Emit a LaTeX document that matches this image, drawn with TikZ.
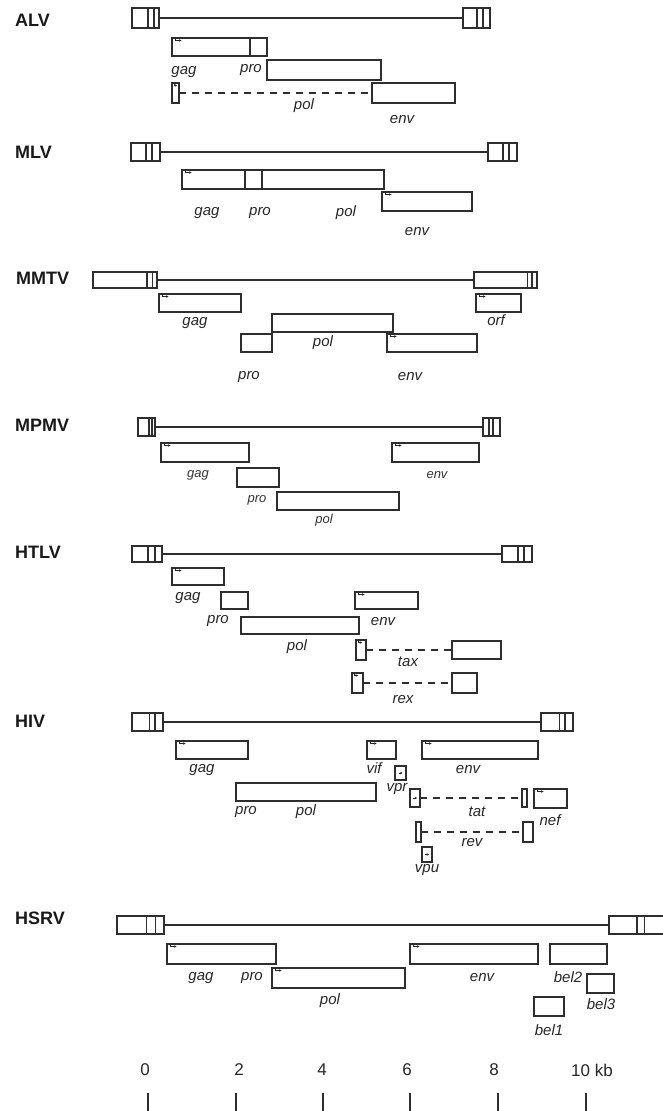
\documentclass[tikz,border=0pt]{standalone}
\usepackage{fontspec}
\setmainfont{Liberation Sans}
\usetikzlibrary{fit,arrows.meta}
\tikzset{
  gbox/.style={draw=black!82, line width=1.3pt, inner sep=0pt, outer sep=0pt, rectangle},
  genome/.style={draw=black!82, line width=1.5pt},
  divline/.style={draw=black!82, line width=1.1pt},
  splice/.style={draw=black!82, line width=1.3pt, dash pattern=on 7pt off 6pt},
  lab/.style={inner sep=0pt, font=\fontsize{15}{17}\selectfont\itshape, text=black!85},
  labs/.style={inner sep=0pt, font=\fontsize{13}{15}\selectfont\itshape, text=black!80},
  title/.style={inner sep=0pt, anchor=west, font=\fontsize{18}{20}\selectfont\bfseries, text=black!90},
  scalelab/.style={inner sep=0pt, font=\fontsize{17}{19}\selectfont, text=black!85},
  startmark/.style={draw=black!85, line width=0.9pt, -{Stealth[length=2.4pt,width=2.6pt]}},
  tickline/.style={draw=black!82, line width=1.4pt}
}
\newcommand\gb[5]{\node[gbox, fit={(#2,#3) (#4,#5)}] (#1) {};}
\newcommand\stm[1]{\draw[startmark] ([xshift=3.5pt]#1.north west) -- ++(0,-2.5pt) -- ++(6pt,0);}
\newcommand\inm[1]{\draw[startmark] ([xshift=-2pt]#1.center) -- ++(4pt,0);}
\newcommand\dv[3]{\draw[divline] (#1,#2) -- (#1,#3);}
\begin{document}
\begin{tikzpicture}[x=1pt,y=-1pt]
\useasboundingbox (0,0) rectangle (662,1111);
% ---------------- ALV
\node[title] (tALV) at (15,20) {ALV};
\gb{aL}{132}{8}{159}{28} \dv{148}{8}{28} \dv{154}{8}{28}
\gb{aR}{463}{8}{490}{28} \dv{477}{8}{28} \dv{483}{8}{28}
\draw[genome] (aL.east) -- (aR.west);
\gb{aGag}{172}{38}{267}{56} \dv{250}{38}{56}
\gb{aPol}{267}{60}{381}{80}
\gb{aEs}{172}{83}{179}{103}
\gb{aEnv}{372}{83}{455}{103}
\draw[splice] (aEs.east) -- (aEnv.west);
\stm{aGag} \draw[startmark] ([xshift=2pt]aEs.north west) -- ++(0,-2.5pt) -- ++(3pt,0);
\node[lab] (lAgag) at (184,72) {gag};
\node[lab] (lApro) at (251,70) {pro};
\node[lab] (lApol) at (304,106) {pol};
\node[lab] (lAenv) at (402,120) {env};
% ---------------- MLV
\node[title] (tMLV) at (15,152) {MLV};
\gb{mL}{131}{143}{160}{161} \dv{146}{143}{161} \dv{152}{143}{161}
\gb{mR}{488}{143}{517}{161} \dv{503}{143}{161} \dv{509}{143}{161}
\draw[genome] (mL.east) -- (mR.west);
\gb{mGag}{182}{170}{384}{189} \dv{245}{170}{189} \dv{262}{170}{189}
\gb{mEnv}{382}{192}{472}{211}
\stm{mGag} \stm{mEnv}
\node[lab] (lMgag) at (207,213) {gag};
\node[lab] (lMpro) at (260,213) {pro};
\node[lab] (lMpol) at (346,213) {pol};
\node[lab] (lMenv) at (417,232) {env};
% ---------------- MMTV
\node[title] (tMMTV) at (16,278) {MMTV};
\gb{tL}{93}{272}{157}{288} \dv{147}{272}{288} \dv{152.5}{272}{288}
\gb{tR}{474}{272}{537}{288} \dv{527.5}{272}{288} \dv{532}{272}{288}
\draw[genome] (tL.east) -- (tR.west);
\gb{tGag}{159}{294}{241}{312}
\gb{tOrf}{476}{294}{521}{312}
\gb{tPol}{272}{314}{393}{332}
\gb{tPro}{241}{334}{272}{352}
\gb{tEnv}{387}{334}{477}{352}
\stm{tGag} \stm{tOrf} \stm{tEnv}
\node[lab] (lTgag) at (195,323) {gag};
\node[lab] (lTorf) at (496,320) {orf};
\node[lab] (lTpol) at (323,343) {pol};
\node[lab] (lTpro) at (249,377) {pro};
\node[lab] (lTenv) at (410,377) {env};
% ---------------- MPMV
\node[title] (tMPMV) at (15,425) {MPMV};
\gb{pL}{138}{418}{155}{436} \dv{149}{418}{436} \dv{152}{418}{436}
\gb{pR}{483}{418}{500}{436} \dv{489}{418}{436} \dv{493}{418}{436}
\draw[genome] (pL.east) -- (pR.west);
\gb{pGag}{161}{443}{249}{462}
\gb{pEnv}{392}{443}{479}{462}
\gb{pPro}{237}{468}{279}{487}
\gb{pPol}{277}{492}{399}{510}
\stm{pGag} \stm{pEnv}
\node[labs] (lPgag) at (198,475) {gag};
\node[labs] (lPenv) at (437,475) {env};
\node[labs] (lPpro) at (257,500) {pro};
\node[labs] (lPpol) at (324,520) {pol};
% ---------------- HTLV
\node[title] (tHTLV) at (15,552) {HTLV};
\gb{hL}{132}{546}{162}{562} \dv{148}{546}{562} \dv{155}{546}{562}
\gb{hR}{502}{546}{532}{562} \dv{518}{546}{562} \dv{524}{546}{562}
\draw[genome] (hL.east) -- (hR.west);
\gb{hGag}{172}{568}{224}{585}
\gb{hPro}{221}{592}{248}{609}
\gb{hEnv}{355}{592}{418}{609}
\gb{hPol}{241}{617}{359}{634}
\gb{hTs}{356}{640}{366}{660}
\gb{hTax}{452}{641}{501}{659}
\draw[splice] (hTs.east) -- (hTax.west);
\gb{hRs}{352}{673}{363}{693}
\gb{hRex}{452}{673}{477}{693}
\draw[splice] (hRs.east) -- (hRex.west);
\stm{hGag} \stm{hEnv}
\draw[startmark] ([xshift=2pt]hTs.north west) -- ++(0,-2.5pt) -- ++(4pt,0);
\draw[startmark] ([xshift=2pt]hRs.north west) -- ++(0,-2.5pt) -- ++(4pt,0);
\node[lab] (lHgag) at (188,598) {gag};
\node[lab] (lHpro) at (218,621) {pro};
\node[lab] (lHenv) at (383,622) {env};
\node[lab] (lHpol) at (297,647) {pol};
\node[lab] (lHtax) at (408,662) {tax};
\node[lab] (lHrex) at (403,700) {rex};
% ---------------- HIV
\node[title] (tHIV) at (15,721) {HIV};
\gb{iL}{132}{713}{163}{731} \dv{149.5}{713}{731} \dv{155}{713}{731}
\gb{iR}{541}{713}{573}{731} \dv{559.5}{713}{731} \dv{565}{713}{731}
\draw[genome] (iL.east) -- (iR.west);
\gb{iGag}{176}{741}{248}{759}
\gb{iVif}{367}{741}{396}{759}
\gb{iEnv}{422}{741}{538}{759}
\gb{iVpr}{395}{766}{406}{780}
\gb{iPol}{236}{783}{376}{801}
\gb{iTs}{410}{789}{420}{807}
\gb{iTr}{522}{789}{527}{807}
\draw[splice] (iTs.east) -- (iTr.west);
\gb{iNef}{534}{789}{567}{808}
\gb{iRs}{416}{822}{421}{842}
\gb{iRr}{523}{822}{533}{842}
\draw[splice] (iRs.east) -- (iRr.west);
\gb{iVpu}{422}{847}{432}{862}
\stm{iGag} \stm{iVif} \stm{iEnv} \stm{iNef}
\inm{iVpr} \inm{iTs} \inm{iVpu}
\node[lab] (lIgag) at (202,770) {gag};
\node[lab] (lIvif) at (374,768) {vif};
\node[lab] (lIenv) at (468,770) {env};
\node[lab] (lIvpr) at (397,789) {vpr};
\node[lab] (lIpro) at (246,812) {pro};
\node[lab] (lIpol) at (306,812) {pol};
\node[lab] (lItat) at (477,812) {tat};
\node[lab] (lInef) at (550,820) {nef};
\node[lab] (lIrev) at (472,843) {rev};
\node[lab] (lIvpu) at (427,870) {vpu};
% ---------------- HSRV
\node[title] (tHSRV) at (15,918) {HSRV};
\gb{sL}{117}{916}{164}{934} \dv{146.5}{916}{934} \dv{155.7}{916}{934}
\gb{sR}{609}{916}{668}{934} \dv{637}{916}{934} \dv{644.5}{916}{934}
\draw[genome] (sL.east) -- (sR.west);
\gb{sGag}{167}{944}{276}{964}
\gb{sPol}{272}{968}{405}{988}
\gb{sEnv}{410}{944}{538}{964}
\gb{sBel2}{550}{944}{607}{964}
\gb{sBel3}{587}{974}{614}{993}
\gb{sBel1}{534}{997}{564}{1016}
\stm{sGag} \stm{sPol} \stm{sEnv}
\node[lab] (lSgag) at (201,978) {gag};
\node[lab] (lSpro) at (252,978) {pro};
\node[lab] (lSpol) at (330,1001) {pol};
\node[lab] (lSenv) at (482,978) {env};
\node[lab] (lSbel2) at (568,977) {bel2};
\node[lab] (lSbel3) at (601,1004) {bel3};
\node[lab] (lSbel1) at (549,1030) {bel1};
% ---------------- scale
\node[scalelab] (k0) at (145,1070) {0};
\node[scalelab] (k2) at (239,1070) {2};
\node[scalelab] (k4) at (322,1070) {4};
\node[scalelab] (k6) at (407,1070) {6};
\node[scalelab] (k8) at (494,1070) {8};
\node[scalelab, anchor=west] (k10) at (571,1070) {10 kb};
\foreach \x in {148,236,323,410,498,586} \draw[tickline] (\x,1093) -- (\x,1112);
\end{tikzpicture}
\end{document}
